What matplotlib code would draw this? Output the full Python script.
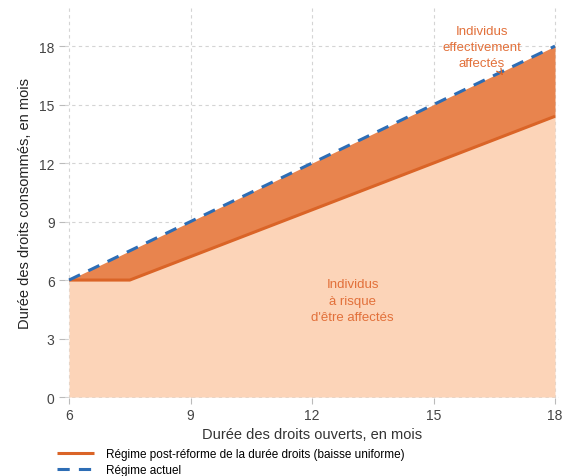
import numpy as np
import matplotlib.pyplot as plt

plt.rcParams['font.family'] = ['Liberation Sans', 'DejaVu Sans']

# Data
x_actuel = [6, 18]
y_actuel = [6, 18]
x_post = [6, 7.5, 18]
y_post = [6, 6, 14.4]
x_ticks = [6, 9, 12, 15, 18]
y_ticks = [0, 3, 6, 9, 12, 15, 18]

c_light = '#FCD4B8'
c_dark = '#E8844E'
c_line = '#DA6427'
c_blue = '#2D6DB5'
c_text = '#E2703A'
c_grid = '#D4D4D4'

fig = plt.figure(figsize=(5.67, 4.77), dpi=100)
ax = fig.add_axes([0.1146, 0.1635, 0.8714, 0.8195])

y_act_interp = np.interp(x_post, x_actuel, y_actuel)
ax.fill_between(x_post, 0, y_post, color=c_light, lw=0, zorder=1)
ax.fill_between(x_post, y_post, y_act_interp, color=c_dark, lw=0, zorder=1)

ax.plot(x_post, y_post, color=c_line, lw=2.2, solid_capstyle='butt', zorder=3,
        label='Régime post-réforme de la durée droits (baisse uniforme)')
ax.plot(x_actuel, y_actuel, color=c_blue, lw=2.2, dashes=(4, 3), zorder=4,
        label='Régime actuel')

ax.text(13, 4.95, 'Individus\nà risque\nd\'être affectés', color=c_text, fontsize=9.5,
        ha='center', va='center', linespacing=1.47, zorder=5)
ax.annotate('Individus\neffectivement\naffectés', xy=(16.75, 16.4), xytext=(16.2, 17.95),
            color=c_text, fontsize=9.5, ha='center', va='center', linespacing=1.47,
            arrowprops=dict(arrowstyle='->', color=c_line, lw=0.9), zorder=5)

ax.set_xlim(5.9, 18.1)
ax.set_ylim(-0.05, 20)
ax.set_xticks(x_ticks)
ax.set_yticks(y_ticks)
ax.grid(True, color=c_grid, ls=(0, (3, 3)), lw=0.8)
ax.set_axisbelow(True)
for s in ax.spines.values():
    s.set_visible(False)
ax.tick_params(colors='#BBBBBB', labelcolor='#444444', labelsize=10, length=4, width=0.8)

ax.set_xlabel('Durée des droits ouverts, en mois', fontsize=10.5, color='#333333', labelpad=3)
ax.set_ylabel('Durée des droits consommés, en mois', fontsize=10.5, color='#222222', labelpad=5)

fig.legend(loc='upper left', bbox_to_anchor=(0.1, 0.058), frameon=False, fontsize=8.5,
           handlelength=3.2, handletextpad=1.0, labelspacing=0.35, borderaxespad=0,
           borderpad=0)

fig.savefig('out.png', dpi=100)
